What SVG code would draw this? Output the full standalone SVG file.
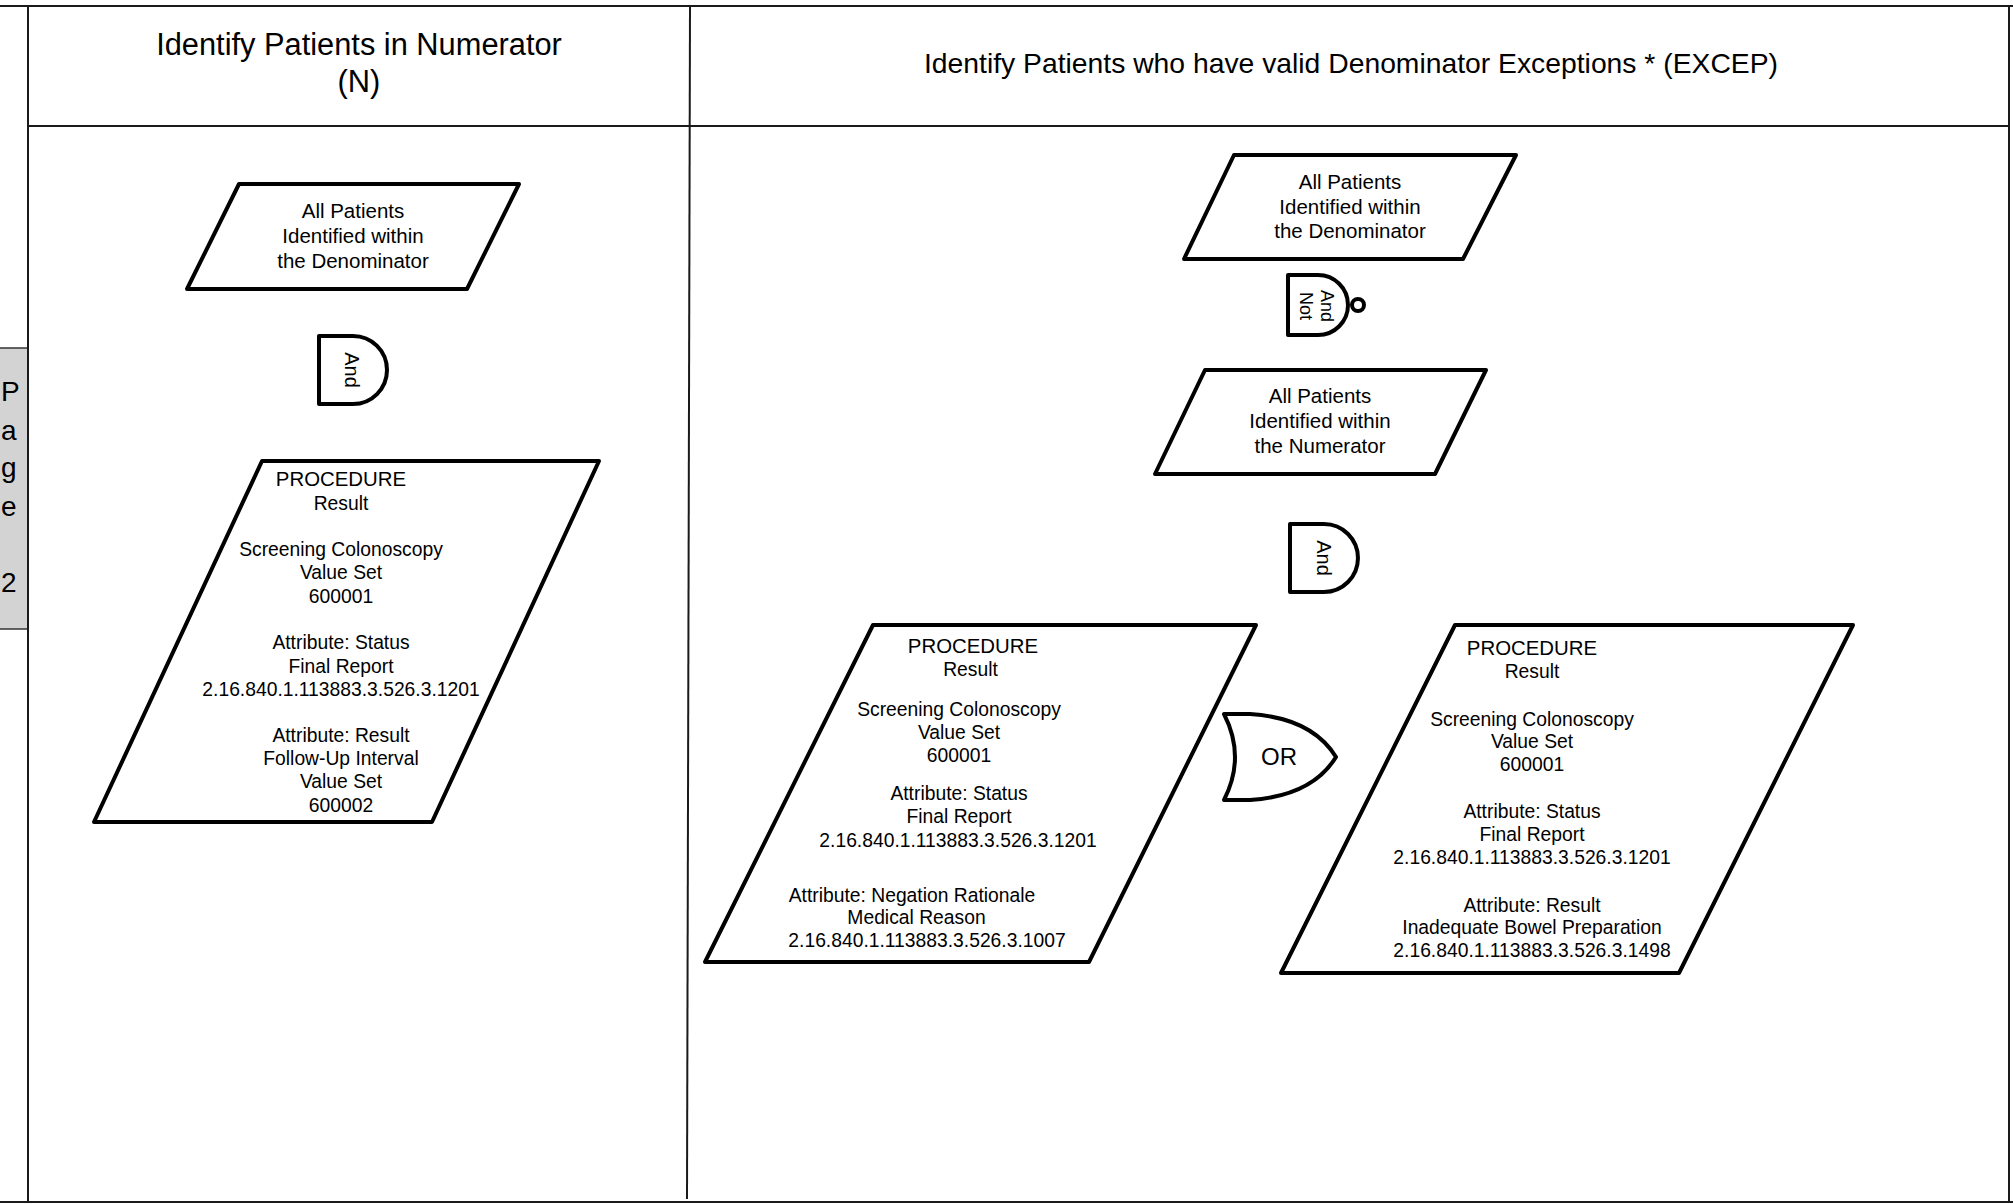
<svg xmlns="http://www.w3.org/2000/svg" width="2013" height="1204" viewBox="0 0 2013 1204">
<style>
text{font-family:"Liberation Sans",Arial,sans-serif;fill:#000}
.frame{stroke:#1a1a1a;stroke-width:2;fill:none}
.shape{fill:#fff;stroke:#000;stroke-width:4;stroke-linejoin:round}
.title{font-size:30.8px;text-anchor:middle}
.lbl{font-size:20.5px;text-anchor:middle}
.body{font-size:19.3px;text-anchor:middle}
.head{font-size:20.4px;text-anchor:middle}
.gate{font-size:20px;text-anchor:middle;dominant-baseline:central}
.tab{font-size:28px}
</style>
<rect width="2013" height="1204" fill="#fff"/>
<g id="frame">
<rect x="0" y="348" width="28" height="281" fill="#d3d3d3"/>
<line x1="0" y1="348" x2="28" y2="348" stroke="#333" stroke-width="1.5"/>
<line x1="0" y1="629" x2="28" y2="629" stroke="#333" stroke-width="1.5"/>
<line class="frame" x1="0" y1="6" x2="2013" y2="6"/>
<line class="frame" x1="28" y1="6" x2="28" y2="1202"/>
<line class="frame" x1="690" y1="6" x2="687" y2="1199"/>
<line class="frame" x1="2009" y1="6" x2="2009" y2="1202" stroke-width="3"/>
<line class="frame" x1="28" y1="126" x2="2009" y2="126"/>
<line class="frame" x1="0" y1="1202" x2="2013" y2="1202" stroke-width="3"/>
<text class="tab" x="1" y="401">P</text>
<text class="tab" x="1" y="440">a</text>
<text class="tab" x="1" y="477">g</text>
<text class="tab" x="1" y="516">e</text>
<text class="tab" x="1" y="592">2</text>
<text class="title" x="359" y="55">Identify Patients in Numerator</text>
<text class="title" x="359" y="92">(N)</text>
<text class="title" style="font-size:28.3px" x="1351" y="73">Identify Patients who have valid Denominator Exceptions * (EXCEP)</text>
</g>
<g id="connectors"></g>
<g id="num-denominator">
<polygon class="shape" points="239,184 519,184 467,289 187,289"/>
<text class="lbl" x="353" y="218">All Patients</text>
<text class="lbl" x="353" y="243">Identified within</text>
<text class="lbl" x="353" y="268">the Denominator</text>
</g>
<g id="num-and">
<path class="shape" d="M319,336 H353 A34,34 0 0 1 353,404 H319 Z"/>
<text class="gate" transform="translate(352,370) rotate(90)">And</text>
</g>
<g id="num-procedure">
<polygon class="shape" points="262,461 599,461 432,822 94,822"/>
<text class="head" x="341" y="486">PROCEDURE</text>
<text class="body" x="341" y="509.5">Result</text>
<text class="body" x="341" y="556">Screening Colonoscopy</text>
<text class="body" x="341" y="579.3">Value Set</text>
<text class="body" x="341" y="602.7">600001</text>
<text class="body" x="341" y="649.3">Attribute: Status</text>
<text class="body" x="341" y="672.7">Final Report</text>
<text class="body" x="341" y="696">2.16.840.1.113883.3.526.3.1201</text>
<text class="body" x="341" y="741.7">Attribute: Result</text>
<text class="body" x="341" y="765">Follow-Up Interval</text>
<text class="body" x="341" y="788.3">Value Set</text>
<text class="body" x="341" y="811.7">600002</text>
</g>
<g id="exc-denominator">
<polygon class="shape" points="1234,155 1516,155 1463,259 1184,259"/>
<text class="lbl" x="1350" y="189.3">All Patients</text>
<text class="lbl" x="1350" y="214">Identified within</text>
<text class="lbl" x="1350" y="238.3">the Denominator</text>
</g>
<g id="exc-andnot">
<path class="shape" d="M1288,275 H1318 A30,30 0 0 1 1318,335 H1288 Z"/>
<circle class="shape" cx="1358" cy="305" r="6" stroke-width="4.5"/>
<text class="gate" style="font-size:18px" transform="translate(1327,306) rotate(90)">And</text>
<text class="gate" style="font-size:18px" transform="translate(1306,306) rotate(90)">Not</text>
</g>
<g id="exc-numerator">
<polygon class="shape" points="1205,370 1486,370 1435,474 1155,474"/>
<text class="lbl" x="1320" y="403.3">All Patients</text>
<text class="lbl" x="1320" y="428.3">Identified within</text>
<text class="lbl" x="1320" y="452.7">the Numerator</text>
</g>
<g id="exc-and">
<path class="shape" d="M1290,524 H1324 A34,34 0 0 1 1324,592 H1290 Z"/>
<text class="gate" transform="translate(1324,558) rotate(90)">And</text>
</g>
<g id="exc-procedure-medical">
<polygon class="shape" points="873,625 1256,625 1089,962 705,962"/>
<text class="head" x="973" y="653">PROCEDURE</text>
<text class="body" x="970.5" y="676">Result</text>
<text class="body" x="959" y="716">Screening Colonoscopy</text>
<text class="body" x="959" y="738.5">Value Set</text>
<text class="body" x="959" y="761.7">600001</text>
<text class="body" x="959" y="800">Attribute: Status</text>
<text class="body" x="959" y="823">Final Report</text>
<text class="body" x="958" y="846.7">2.16.840.1.113883.3.526.3.1201</text>
<text class="body" x="912" y="901.7">Attribute: Negation Rationale</text>
<text class="body" x="916.5" y="924">Medical Reason</text>
<text class="body" x="927" y="946.7">2.16.840.1.113883.3.526.3.1007</text>
</g>
<g id="exc-or">
<path class="shape" d="M1224,714 H1250 Q1312,718 1336,757 Q1312,796 1250,800 H1224 Q1246,757 1224,714 Z"/>
<text class="gate" style="font-size:24px" x="1279" y="756">OR</text>
</g>
<g id="exc-procedure-bowel">
<polygon class="shape" points="1455,625 1853,625 1679,973 1281,973"/>
<text class="head" x="1532" y="655">PROCEDURE</text>
<text class="body" x="1532" y="678.3">Result</text>
<text class="body" x="1532" y="726">Screening Colonoscopy</text>
<text class="body" x="1532" y="748.3">Value Set</text>
<text class="body" x="1532" y="770.7">600001</text>
<text class="body" x="1532" y="818.3">Attribute: Status</text>
<text class="body" x="1532" y="841">Final Report</text>
<text class="body" x="1532" y="864">2.16.840.1.113883.3.526.3.1201</text>
<text class="body" x="1532" y="911.7">Attribute: Result</text>
<text class="body" x="1532" y="934">Inadequate Bowel Preparation</text>
<text class="body" x="1532" y="957.3">2.16.840.1.113883.3.526.3.1498</text>
</g>
</svg>
